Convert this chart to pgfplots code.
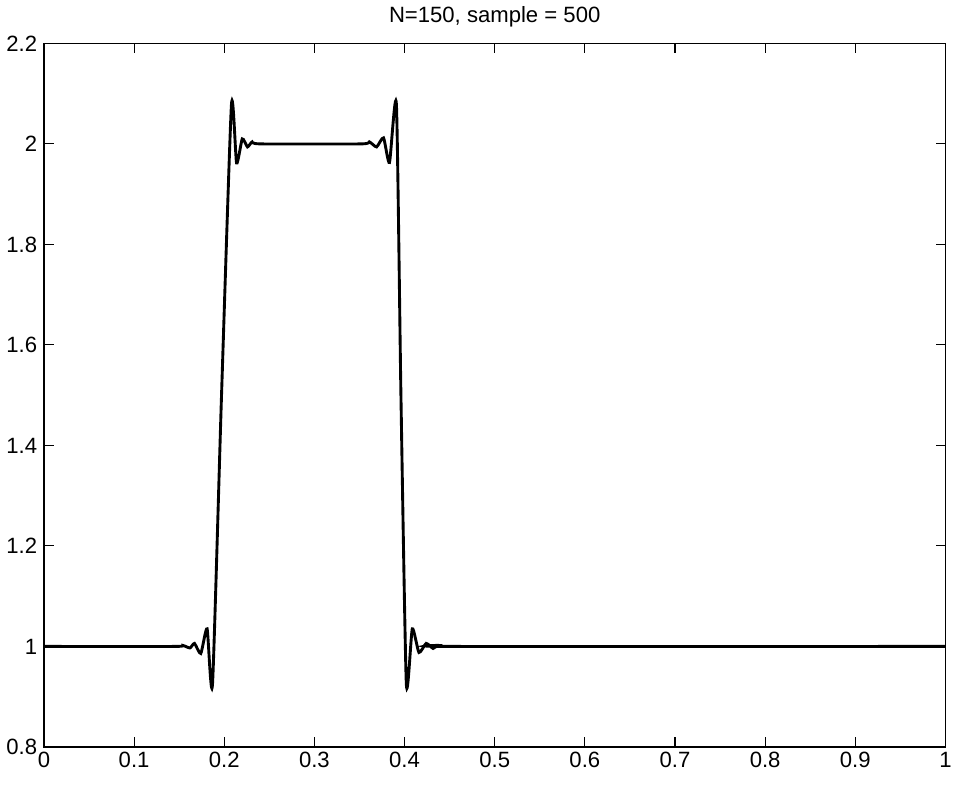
\documentclass[border=0pt]{standalone}
\usepackage{pgfplots}
\pgfplotsset{compat=1.18}
\usepackage{fontspec}
\setmainfont{Liberation Sans}

\pgfplotstableread{
x y
0.000 1.000
0.145 1.000
0.154 1.002
0.162 0.997
0.167 1.006
0.174 0.986
0.181 1.035
0.187 0.925
0.197 1.500
0.208 2.078
0.2137 1.962
0.220 2.010
0.2258 1.994
0.231 2.004
0.240 2.000
0.352 2.000
0.361 2.004
0.369 1.994
0.3767 2.012
0.3833 1.963
0.391 2.078
0.396 1.500
0.402 0.925
0.4086 1.035
0.416 0.988
0.424 1.006
0.4317 0.996
0.437 1.002
0.4515 1.000
1.000 1.000
}\signal

\begin{document}
\begin{tikzpicture}
\begin{axis}[
    width=469pt,
    height=366pt,
    scale only axis,
    xmin=0, xmax=1,
    ymin=0.8, ymax=2.2,
    xtick={0,0.1,...,1},
    ytick={0.8,1,...,2.2},
    tick align=inside,
    major tick length=5pt,
    tick style={black, line width=0.6pt},
    axis line style={line width=0.8pt},
    /pgf/number format/assume math mode=true,
    tick label style={font=\fontsize{11.5}{13}\selectfont},
    xticklabel style={yshift=1pt},
    title={N=150, sample = 500},
    title style={font=\fontsize{11.5}{13}\selectfont, yshift=-1pt},
]
\addplot[black, line width=1.5pt, smooth, tension=0.35] table {\signal};
\end{axis}
\path (current axis.south) ++(0,-26pt);
\end{tikzpicture}
\end{document}
